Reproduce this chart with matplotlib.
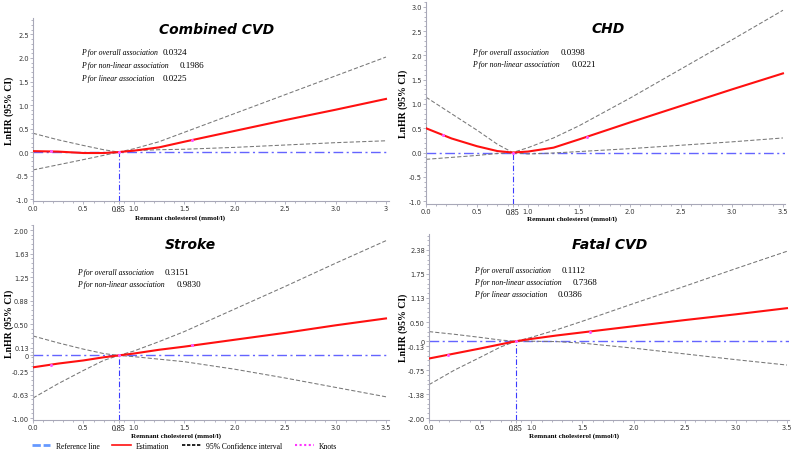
import numpy as np
import matplotlib
matplotlib.use("Agg")
import matplotlib.pyplot as plt
from matplotlib.lines import Line2D
from matplotlib.ticker import AutoMinorLocator, MultipleLocator

# Remnant cholesterol grid (mmol/l)
rc = [0.0, 0.25, 0.5, 0.7, 0.85, 1.0, 1.25, 1.5, 2.0, 2.5, 3.0, 3.5]
ref_x = 0.85

# Combined CVD
cvd_est = [0.02, 0.01, -0.02, -0.02, 0.0, 0.03, 0.10, 0.22, 0.45, 0.68, 0.90, 1.13]
cvd_upper = [0.40, 0.26, 0.14, 0.05, 0.0, 0.07, 0.22, 0.42, 0.82, 1.22, 1.62, 2.02]
cvd_lower = [-0.38, -0.27, -0.16, -0.07, 0.0, 0.03, 0.05, 0.06, 0.10, 0.15, 0.20, 0.24]
cvd_knots = [0.18, 0.85, 1.58]
cvd_knots_y = [0.015, 0.0, 0.26]

# CHD
chd_est = [0.50, 0.29, 0.13, 0.03, 0.0, 0.02, 0.10, 0.27, 0.62, 0.96, 1.30, 1.63]
chd_upper = [1.14, 0.80, 0.46, 0.17, 0.0, 0.10, 0.30, 0.55, 1.12, 1.72, 2.32, 2.93]
chd_lower = [-0.14, -0.10, -0.06, -0.02, 0.0, -0.03, -0.01, 0.02, 0.08, 0.15, 0.22, 0.30]
chd_knots = [0.17, 0.85, 1.58]
chd_knots_y = [0.36, 0.0, 0.32]

# Stroke
str_est = [-0.19, -0.13, -0.08, -0.03, 0.0, 0.03, 0.09, 0.14, 0.25, 0.36, 0.48, 0.59]
str_upper = [0.31, 0.20, 0.10, 0.03, 0.0, 0.07, 0.22, 0.38, 0.74, 1.10, 1.47, 1.83]
str_lower = [-0.68, -0.45, -0.24, -0.08, 0.0, -0.02, -0.06, -0.10, -0.22, -0.36, -0.51, -0.66]
str_knots = [0.18, 0.85, 1.58]
str_knots_y = [-0.15, 0.0, 0.16]

# Fatal CVD
fat_est = [-0.45, -0.32, -0.19, -0.08, 0.0, 0.06, 0.15, 0.23, 0.39, 0.55, 0.70, 0.86]
fat_upper = [0.25, 0.18, 0.10, 0.03, 0.0, 0.10, 0.30, 0.52, 0.98, 1.43, 1.89, 2.34]
fat_lower = [-1.13, -0.75, -0.42, -0.15, 0.0, 0.0, -0.01, -0.05, -0.18, -0.33, -0.48, -0.62]
fat_knots = [0.19, 0.85, 1.57]
fat_knots_y = [-0.35, 0.0, 0.25]

x_ticks = [0, 0.5, 0.85, 1.0, 1.5, 2.0, 2.5, 3.0, 3.5]
x_labels_a = ["0.0", "0.5", "0.85", "1.0", "1.5", "2.0", "2.5", "3.0", "3"]
x_labels_b = ["0.0", "0.5", "0.85", "1.0", "1.5", "2.0", "2.5", "3.0", "3.5"]

cvd_yticks = [-1.0, -0.5, 0.0, 0.5, 1.0, 1.5, 2.0, 2.5]
cvd_ylabels = ["-1.0", "-0.5", "0.0", "0.5", "1.0", "1.5", "2.0", "2.5"]
chd_yticks = [-1.0, -0.5, 0.0, 0.5, 1.0, 1.5, 2.0, 2.5, 3.0]
chd_ylabels = ["-1.0", "-0.5", "0.0", "0.5", "1.0", "1.5", "2.0", "2.5", "3.0"]
str_yticks = [-1.0, -0.625, -0.25, 0.0, 0.125, 0.5, 0.875, 1.25, 1.625, 2.0]
str_ylabels = ["-1.00", "-0.63", "-0.25", "0", "0.13", "0.50", "0.88", "1.25", "1.63", "2.00"]
fat_yticks = [-2.0, -1.375, -0.75, -0.125, 0.0, 0.5, 1.125, 1.75, 2.375]
fat_ylabels = ["-2.00", "-1.38", "-0.75", "-0.13", "0", "0.50", "1.13", "1.75", "2.38"]

titles = ["Combined CVD", "CHD", "Stroke", "Fatal CVD"]
p_texts = [
    [("P for overall association", "0.0324"), ("P for non-linear association", "0.1986"),
     ("P for linear association", "0.0225")],
    [("P for overall association", "0.0398"), ("P for non-linear association", "0.0221")],
    [("P for overall association", "0.3151"), ("P for non-linear association", "0.9830")],
    [("P for overall association", "0.1112"), ("P for non-linear association", "0.7368"),
     ("P for linear association", "0.0386")],
]

W, H = 796, 456
fig = plt.figure(figsize=(W / 100, H / 100), dpi=100)

def fx(px):
    return px / W

def fy(py):
    return 1 - py / H

# axes boxes in pixels: left, top, right, bottom
boxes = [(33, 19, 389, 202), (426, 3, 785, 205), (33, 226, 389, 421), (429, 235, 789, 421)]
ylims = [(-1.04, 2.85), (-1.06, 3.1), (-1.03, 2.08), (-2.05, 2.79)]
xlims = [(0, 3.53), (0, 3.52), (0, 3.53), (0, 3.52)]
ests = [cvd_est, chd_est, str_est, fat_est]
uppers = [cvd_upper, chd_upper, str_upper, fat_upper]
lowers = [cvd_lower, chd_lower, str_lower, fat_lower]
knots = [cvd_knots, chd_knots, str_knots, fat_knots]
knots_y = [cvd_knots_y, chd_knots_y, str_knots_y, fat_knots_y]
yticks = [cvd_yticks, chd_yticks, str_yticks, fat_yticks]
ylabels = [cvd_ylabels, chd_ylabels, str_ylabels, fat_ylabels]
xlabels = [x_labels_a, x_labels_b, x_labels_b, x_labels_b]

title_pos = [(217, 30), (608, 29), (190, 245), (610, 245)]
p_start = [81, 472, 77, 474]
p_num = [[163, 180, 163], [561, 572], [165, 177], [562, 573, 558]]
p_y = [[53, 66, 79], [53, 65], [273, 285], [271, 283, 295]]
xlab_pos = [(180, 218), (572, 219), (176, 436), (574, 436)]
ylab_x = [9, 403, 9, 403]

ref_col = "#6464ff"
ci_col = "#777777"
spine_col = "#a8a8b8"

for i in range(4):
    l, t, r, b = boxes[i]
    ax = fig.add_axes([fx(l), fy(b), (r - l) / W, (b - t) / H])
    ax.set_xlim(*xlims[i])
    ax.set_ylim(*ylims[i])

    ax.axhline(0, color=ref_col, lw=1.0, linestyle=(0, (7, 2.5, 1.5, 2.5)), zorder=1)
    ax.vlines(ref_x, ylims[i][0], 0, color="#3a3aff", lw=0.8,
              linestyle=(0, (5, 2, 1, 2)), zorder=1)
    ax.plot(rc, uppers[i], color=ci_col, lw=0.75, linestyle=(0, (4, 2)), zorder=2)
    ax.plot(rc, lowers[i], color=ci_col, lw=0.75, linestyle=(0, (4, 2)), zorder=2)
    ax.plot(rc, ests[i], color="#ff1010", lw=1.5, zorder=3)
    ax.plot(knots[i], knots_y[i], linestyle="none", marker="o", ms=1.2,
            color="#ff55ff", zorder=4)

    for s in ["top", "right"]:
        ax.spines[s].set_visible(False)
    for s in ["left", "bottom"]:
        ax.spines[s].set_color(spine_col)
        ax.spines[s].set_linewidth(0.8)

    ax.set_xticks(x_ticks)
    ax.set_xticklabels(xlabels[i])
    ax.set_yticks(yticks[i])
    ax.set_yticklabels(ylabels[i])
    ax.xaxis.set_minor_locator(MultipleLocator(0.1))
    ax.yaxis.set_minor_locator(AutoMinorLocator(5))
    ax.tick_params(which="both", direction="out", color=spine_col, width=0.6,
                   labelsize=4.8, labelcolor="#333333", pad=1)
    ax.tick_params(which="major", length=2)
    ax.tick_params(which="minor", length=1.2)
    lab = ax.get_xticklabels()[2]
    lab.set_fontfamily("Liberation Serif")
    lab.set_fontsize(5.8)
    lab.set_color("black")

    ax.set_ylabel("LnHR (95% CI)", fontfamily="Liberation Serif",
                  fontweight="bold", fontsize=7)
    ax.yaxis.set_label_coords((ylab_x[i] - l) / (r - l), 0.5)
    ax.yaxis.label.set_va("center")

    lx, ly = xlab_pos[i]
    fig.text(fx(lx), fy(ly), "Remnant cholesterol (mmol/l)", ha="center", va="center",
             family="Liberation Serif", fontweight="bold", fontsize=5)

    tx, ty = title_pos[i]
    fig.text(fx(tx), fy(ty), titles[i], ha="center", va="center", fontsize=10,
             fontweight="bold", fontstyle="italic", family="DejaVu Sans")

    for j, (lbl, val) in enumerate(p_texts[i]):
        fig.text(fx(p_start[i]), fy(p_y[i][j]), lbl, ha="left", va="center",
                 fontsize=5.6, fontstyle="italic", family="Liberation Serif")
        fig.text(fx(p_num[i][j]), fy(p_y[i][j]), val, ha="left", va="center",
                 fontsize=6.5, family="Liberation Serif")

handles = [
    Line2D([], [], color="#6699ff", lw=2, linestyle=(0, (3, 1))),
    Line2D([], [], color="#ff1010", lw=1.2),
    Line2D([], [], color="black", lw=1.2, linestyle=(0, (2, 1))),
    Line2D([], [], color="#ff33ff", lw=1.5, linestyle=(0, (1, 1.2))),
]
labels = ["Reference line", "Estimation", "95% Confidence interval", "Knots"]
fig.legend(handles, labels, loc="center left", bbox_to_anchor=(fx(32), fy(447)),
           ncol=4, frameon=False, handlelength=2.4, handletextpad=0.7,
           columnspacing=1.7, borderpad=0, borderaxespad=0,
           prop={"family": "Liberation Serif", "size": 5.5})

fig.savefig("out.png", dpi=100)
